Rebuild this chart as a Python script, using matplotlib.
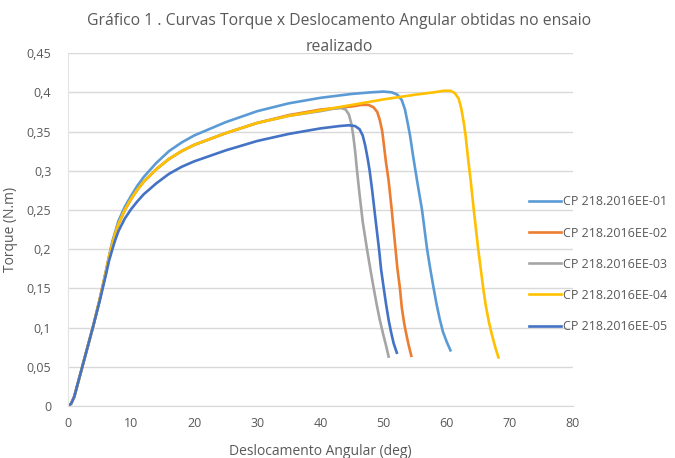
import matplotlib
matplotlib.use("Agg")
import matplotlib.pyplot as plt

plt.rcParams['font.family'] = ['Open Sans', 'DejaVu Sans']

# Dados (deslocamento em graus, torque em N.m)
x01 = [0, 0.5, 1, 2, 3, 4, 5, 6, 7, 8, 9, 10, 11, 12, 14, 16, 18, 20, 25, 30, 35, 40, 45, 48,
       50, 51.3, 52.2, 52.9, 53.4, 53.8, 54.2, 54.7, 55.3, 56.1, 56.9, 57.4, 57.9, 58.4,
       58.9, 59.4, 60.0, 60.6]
y01 = [0, 0.003, 0.012, 0.042, 0.072, 0.102, 0.135, 0.172, 0.209, 0.236, 0.254, 0.268, 0.281,
       0.292, 0.31, 0.325, 0.336, 0.345, 0.362, 0.376, 0.386, 0.393, 0.398, 0.400,
       0.401, 0.400, 0.397, 0.390, 0.378, 0.362, 0.345, 0.318, 0.288, 0.25, 0.2, 0.175, 0.152,
       0.13, 0.111, 0.095, 0.082, 0.071]

x02 = [0, 0.5, 1, 2, 3, 4, 5, 6, 6.5, 7, 7.5, 8, 9, 10, 11, 12, 14, 16, 18, 20, 25, 30, 35, 40,
       45, 46.5, 47.6, 48.4, 49, 49.4, 49.8, 50.1, 50.4, 50.8, 51.3, 51.9, 52.2, 52.6, 52.9,
       53.3, 53.7, 54.0, 54.4]
y02 = [0, 0.003, 0.012, 0.042, 0.072, 0.102, 0.135, 0.17, 0.19, 0.206, 0.22, 0.232, 0.25,
       0.264, 0.276, 0.286, 0.302, 0.315, 0.325, 0.333, 0.348, 0.361, 0.371, 0.378,
       0.382, 0.384, 0.384, 0.381, 0.375, 0.365, 0.35, 0.33, 0.31, 0.288, 0.25, 0.2, 0.175,
       0.15, 0.125, 0.104, 0.088, 0.077, 0.064]

x03 = [0, 0.5, 1, 2, 3, 4, 5, 6, 6.5, 7, 7.5, 8, 9, 10, 11, 12, 14, 16, 18, 20, 25, 30, 35, 40,
       42, 43.3, 44.0, 44.5, 44.9, 45.2, 45.5, 45.8, 46.2, 46.7, 47.4, 47.9, 48.4, 48.9,
       49.4, 49.9, 50.4, 50.8]
y03 = [0, 0.003, 0.012, 0.042, 0.072, 0.102, 0.135, 0.17, 0.19, 0.206, 0.22, 0.232, 0.25,
       0.264, 0.276, 0.286, 0.302, 0.315, 0.325, 0.333, 0.348, 0.361, 0.370, 0.376,
       0.379, 0.380, 0.378, 0.372, 0.36, 0.345, 0.325, 0.3, 0.27, 0.235, 0.199, 0.175, 0.152,
       0.13, 0.11, 0.093, 0.077, 0.063]

x04 = [0, 0.5, 1, 2, 3, 4, 5, 6, 6.5, 7, 7.5, 8, 9, 10, 11, 12, 14, 16, 18, 20, 25, 30, 35, 40,
       45, 50, 55, 58, 59.5, 60.6, 61.3, 61.9, 62.3, 62.7, 63.0, 63.4, 63.8, 64.3, 65.0,
       65.4, 65.8, 66.2, 66.7, 67.2, 67.7, 68.2]
y04 = [0, 0.003, 0.012, 0.042, 0.072, 0.102, 0.135, 0.17, 0.19, 0.206, 0.22, 0.232, 0.25,
       0.264, 0.276, 0.286, 0.302, 0.315, 0.325, 0.333, 0.348, 0.361, 0.370, 0.377,
       0.384, 0.391, 0.397, 0.400, 0.402, 0.402, 0.399, 0.392, 0.38, 0.362, 0.345, 0.315,
       0.288, 0.25, 0.2, 0.175, 0.15, 0.128, 0.107, 0.09, 0.075, 0.062]

x05 = [0, 0.5, 1, 2, 3, 4, 5, 6, 6.5, 7, 7.5, 8, 9, 10, 11, 12, 14, 16, 18, 20, 25, 30, 35, 40,
       43, 44.5, 45.5, 46.2, 46.7, 47.1, 47.5, 47.8, 48.2, 48.7, 49.3, 49.6, 50.0, 50.4,
       50.8, 51.2, 51.6, 52.1]
y05 = [0, 0.003, 0.012, 0.042, 0.072, 0.102, 0.133, 0.167, 0.185, 0.199, 0.212, 0.223, 0.239,
       0.251, 0.261, 0.27, 0.284, 0.296, 0.305, 0.312, 0.326, 0.338, 0.347, 0.354,
       0.357, 0.358, 0.357, 0.353, 0.345, 0.332, 0.315, 0.3, 0.275, 0.24, 0.199, 0.175,
       0.152, 0.13, 0.11, 0.094, 0.08, 0.068]

nomes = ['CP 218.2016EE-01', 'CP 218.2016EE-02', 'CP 218.2016EE-03',
         'CP 218.2016EE-04', 'CP 218.2016EE-05']
cores = ['#5B9BD5', '#ED7D31', '#A5A5A5', '#FFC000', '#4472C4']

yticks = [0, 0.05, 0.1, 0.15, 0.2, 0.25, 0.3, 0.35, 0.4, 0.45]
ylabels = ['0', '0,05', '0,1', '0,15', '0,2', '0,25', '0,3', '0,35', '0,4', '0,45']
xticks = [0, 10, 20, 30, 40, 50, 60, 70, 80]

cinza = '#595959'

fig = plt.figure(figsize=(6.75, 4.58), dpi=100)
ax = fig.add_axes([0.1007, 0.1135, 0.748, 0.7705])

series = [(x01, y01), (x02, y02), (x03, y03), (x04, y04), (x05, y05)]
for (xs, ys), nome, cor in zip(series, nomes, cores):
    ax.plot(xs, ys, color=cor, lw=1.9, label=nome, solid_joinstyle='round')

ax.set_xlim(0, 80)
ax.set_ylim(0, 0.45)
ax.set_xticks(xticks)
ax.set_yticks(yticks)
ax.set_yticklabels(ylabels)
ax.tick_params(colors=cinza, labelsize=9, length=0)
ax.tick_params(axis='y', pad=12)
ax.tick_params(axis='x', pad=8)
ax.grid(axis='y', color='#D9D9D9', lw=1)
ax.set_axisbelow(True)
for s in ['top', 'right']:
    ax.spines[s].set_visible(False)
ax.spines['left'].set_color('#E3E3E3')
ax.spines['bottom'].set_color('#D9D9D9')

ax.set_xlabel('Deslocamento Angular (deg)', color=cinza, fontsize=10, labelpad=10)
ax.set_ylabel('Torque (N.m)', color=cinza, fontsize=10, labelpad=6)

fig.text(0.503, 0.955, 'Gráfico 1 . Curvas Torque x Deslocamento Angular obtidas no ensaio',
         ha='center', va='center', color=cinza, fontsize=11.3)
fig.text(0.503, 0.897, 'realizado', ha='center', va='center', color=cinza, fontsize=11.3)

leg = ax.legend(loc='center left', bbox_to_anchor=(0.904, 0.402), frameon=False,
                borderaxespad=0, fontsize=9.0, handlelength=2.5, handletextpad=0.2,
                labelspacing=1.45)
for t in leg.get_texts():
    t.set_color(cinza)

fig.savefig('out.png', dpi=100)
